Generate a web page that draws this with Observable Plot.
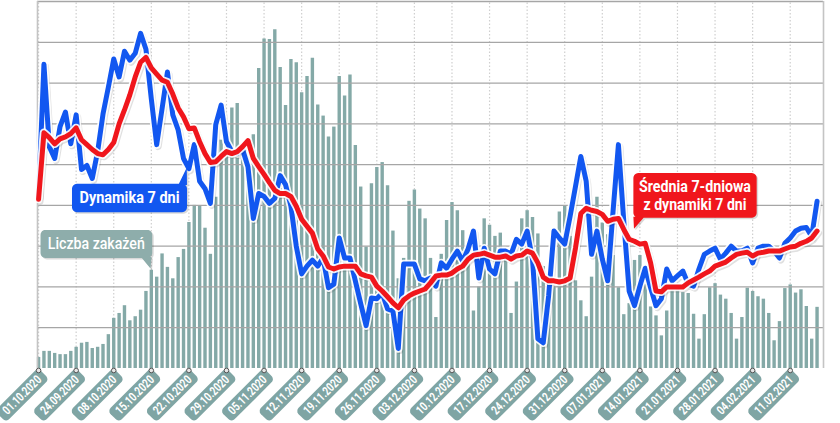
<!DOCTYPE html>
<html><head><meta charset="utf-8">
<script src="https://cdn.jsdelivr.net/npm/d3@7"></script>
<script src="https://cdn.jsdelivr.net/npm/@observablehq/plot@0.6"></script>
<style>
html,body{margin:0;padding:0;background:#fff;}
#chart{width:840px;height:423px;overflow:hidden;}
svg{display:block;}
</style></head><body><div id="chart"></div>
<script>
// ---- data (one value per day) ----
const cases = [
  2.7, 4.2, 4.2, 3.7, 3.4, 3.4, 4.2, 5.2, 6.2, 6.4,
  4.9, 5.2, 5.9, 8.3, 12.3, 13.5, 15.4, 11.7, 12.7, 14.3,
  18.9, 24.1, 22.4, 28.1, 24.8, 22.0, 27.2, 29.2, 35.8, 40.0,
  40.0, 34.4, 28.0, 42.0, 56.0, 55.0, 63.9, 65.0, 55.0, 53.0,
  57.3, 73.6, 80.8, 80.7, 83.1, 73.8, 64.5, 75.8, 75.0, 67.6,
  71.6, 76.1, 64.6, 61.9, 56.8, 59.2, 71.6, 66.8, 72.0, 54.7,
  44.5, 29.8, 45.3, 49.3, 50.5, 44.8, 33.7, 22.0, 27.0, 41.0,
  43.8, 39.1, 36.7, 27.0, 12.5, 28.0, 36.3, 40.7, 38.7, 33.8,
  28.0, 14.1, 20.0, 36.7, 35.1, 32.4, 33.2, 28.0, 13.5, 21.2,
  36.7, 38.7, 37.0, 33.0, 25.0, 14.0, 20.0, 38.4, 39.8, 32.4,
  21.5, 16.6, 12.7, 22.4, 42.0, 35.7, 32.8, 27.7, 19.8, 13.2,
  15.9, 26.5, 27.7, 20.7, 15.1, 12.9, 8.0, 14.1, 19.2, 19.8,
  18.6, 18.4, 13.3, 7.2, 13.2, 19.8, 20.8, 18.0, 17.0, 13.5,
  7.2, 12.5, 19.7, 18.9, 17.6, 17.0, 13.5, 6.8, 11.5, 19.6,
  20.5, 18.5, 19.3, 15.2, 7.2, 15.0
];
const dynamics = [
  42.2, 74.6, 54.4, 51.5, 59.3, 62.9, 55.1, 62.2, 48.8, 49.8,
  46.6, 53.2, 62.4, 69.0, 75.9, 71.5, 77.8, 75.6, 77.3, 82.2,
  78.3, 66.1, 54.9, 63.7, 72.7, 62.2, 58.5, 51.5, 49.0, 54.9,
  45.9, 44.1, 40.5, 59.8, 64.6, 55.6, 53.2, 52.7, 53.7, 49.5,
  36.8, 42.9, 42.2, 40.5, 41.7, 47.3, 45.1, 39.8, 30.0, 23.2,
  25.1, 26.6, 25.1, 27.1, 19.8, 20.7, 32.0, 27.1, 27.1, 21.5,
  15.9, 10.5, 17.3, 17.1, 18.5, 14.6, 14.1, 4.9, 25.6, 25.6,
  25.6, 22.0, 21.5, 22.2, 20.2, 25.9, 24.6, 26.8, 28.8, 26.3,
  29.3, 33.7, 22.2, 29.5, 24.4, 23.2, 28.8, 28.8, 28.0, 31.7,
  30.5, 33.7, 26.8, 7.3, 6.3, 17.8, 33.7, 32.0, 30.5, 37.3,
  44.6, 52.0, 45.9, 28.0, 33.7, 26.8, 21.5, 38.5, 54.9, 36.1,
  19.0, 15.4, 20.2, 24.6, 19.8, 15.4, 17.1, 24.4, 21.5, 22.7,
  23.9, 20.7, 20.2, 24.4, 28.0, 28.8, 29.5, 26.8, 28.3, 30.0,
  28.8, 28.8, 29.5, 25.9, 29.5, 30.0, 30.0, 28.8, 27.1, 30.7,
  32.0, 33.7, 34.4, 34.6, 32.4, 41.0
];
const average = [
  41.5, 57.8, 56.6, 55.1, 56.3, 56.8, 57.6, 59.0, 56.1, 54.9,
  53.7, 52.7, 52.4, 53.7, 55.4, 60.0, 63.4, 67.1, 71.5, 75.1,
  76.3, 73.7, 72.2, 70.7, 70.2, 67.3, 63.9, 61.7, 58.8, 59.0,
  55.6, 52.7, 50.5, 50.7, 52.0, 53.2, 52.7, 53.2, 54.4, 55.9,
  51.5, 49.5, 47.6, 45.6, 43.7, 42.9, 42.9, 42.2, 39.8, 36.6,
  34.9, 33.2, 29.3, 27.6, 24.9, 24.4, 24.9, 25.1, 25.1, 25.1,
  23.2, 22.7, 22.4, 20.2, 19.0, 17.6, 16.1, 14.9, 16.8, 17.8,
  18.5, 19.0, 19.5, 21.0, 22.7, 22.9, 22.9, 23.4, 24.4, 25.1,
  26.8, 27.8, 28.0, 28.3, 27.8, 27.3, 27.3, 27.6, 26.8, 27.6,
  27.8, 28.8, 28.3, 25.9, 22.4, 21.5, 21.5, 21.2, 21.5, 22.2,
  29.5, 38.0, 39.3, 38.8, 38.5, 37.8, 36.1, 36.6, 36.8, 34.1,
  31.7, 31.2, 30.5, 30.7, 25.9, 19.0, 18.8, 20.0, 20.0, 20.0,
  20.0, 21.0, 21.7, 22.4, 23.2, 23.9, 25.1, 25.6, 26.1, 27.1,
  28.0, 28.3, 28.5, 27.6, 28.3, 28.5, 28.8, 28.8, 28.8, 29.3,
  29.8, 30.0, 30.7, 31.2, 32.0, 33.7
];
const tickDays = [0, 7, 14, 21, 28, 35, 42, 49, 56, 63, 70, 77, 84, 91, 98, 105, 112, 119, 126, 133, 140];
const tickLabels = [
  "01.10.2020", "24.09.2020", "08.10.2020", "15.10.2020", "22.10.2020", "29.10.2020", "05.11.2020",
  "12.11.2020", "19.11.2020", "26.11.2020", "03.12.2020", "10.12.2020", "17.12.2020", "24.12.2020",
  "31.12.2020", "07.01.2021", "14.01.2021", "21.01.2021", "28.01.2021", "04.02.2021", "11.02.2021"
];
const gridValues = [10, 20, 30, 40, 50, 60, 70, 80, 90];

// annotations: anchor (tip of the pointer) in data coordinates
const notes = [
  {key: "dyn", i: 27.7, v: 49.3},
  {key: "cases", i: 20.85, v: 24.5},
  {key: "avg", i: 110.9, v: 34.3}
];
const noteLines = [
  {key: "dyn", text: "Dynamika 7 dni"},
  {key: "cases", text: "Liczba zakażeń"},
  {key: "avg", text: "Średnia 7-dniowa"},
  {key: "avg", text: "z dynamiki 7 dni"}
];

// ---- layout / style ----
const XMIN = -0.2, XMAX = 146.2;
const FONT = "Roboto, 'Liberation Sans', sans-serif";
const BLUE = "#1257f0", RED = "#f0161c", TEAL = "#84a9a7", LABEL = "#7fa5a4", NOTEGRAY = "#8eadab";

const rows = cases.map((c, i) => ({i, cases: c, dyn: dynamics[i], avg: average[i]}));
const anchorOf = Object.fromEntries(notes.map(n => [n.key, n]));

function roundedRectPts(x0, y0, x1, y1, r, n = 6) {
  const pts = [];
  const cs = [
    [x1 - r, y0 + r, -Math.PI / 2, 0],
    [x1 - r, y1 - r, 0, Math.PI / 2],
    [x0 + r, y1 - r, Math.PI / 2, Math.PI],
    [x0 + r, y0 + r, Math.PI, 1.5 * Math.PI]
  ];
  for (const [cx, cy, a0, a1] of cs)
    for (let k = 0; k <= n; k++) {
      const a = a0 + (a1 - a0) * k / n;
      pts.push([cx + r * Math.cos(a), cy + r * Math.sin(a)]);
    }
  return pts;
}
function area(p) { let s = 0; for (let k = 0; k < p.length; k++) { const a = p[k], b = p[(k + 1) % p.length]; s += a[0] * b[1] - b[0] * a[1]; } return s; }
function poly(ctx, p) { ctx.moveTo(p[0][0], p[0][1]); for (let k = 1; k < p.length; k++) ctx.lineTo(p[k][0], p[k][1]); ctx.closePath(); }

// rotated pill under each date label
const labelBox = {
  draw(ctx) {
    const a = Math.SQRT1_2, P = [5, 5], L = 61, h = 8;
    const pts = roundedRectPts(0, -h, L, h, 4.5).map(([s, t]) => [P[0] - s * a + t * a, P[1] + s * a + t * a]);
    poly(ctx, pts);
  }
};
function callout(box, tail) {
  return {
    draw(ctx) {
      const b = roundedRectPts(box[0], box[1], box[2], box[3], 5);
      let t = tail.slice();
      if (Math.sign(area(t)) !== Math.sign(area(b))) t = t.reverse();
      poly(ctx, b); poly(ctx, t);
    }
  };
}
const symbols = {
  dyn: callout([-115.3, 16.3, -0.3, 44.7], [[-9, 17.5], [-0.5, 0], [-0.3, 17.5]]),
  cases: callout([-110, -38.7, 1.7, -10.7], [[-9.5, -11.7], [1, -11.7], [0, 0]]),
  avg: callout([-0.6, -55.6, 122.7, -11], [[-0.6, -12], [10.5, -12], [0, 0]])
};
const noteFill = {dyn: BLUE, cases: NOTEGRAY, avg: RED};
const lineStyle = {
  "Dynamika 7 dni": {dx: -57.8, dy: 30.8, fontWeight: "bold", len: 100},
  "Liczba zakażeń": {dx: -54.2, dy: -24.4, fontWeight: 500, len: 97},
  "Średnia 7-dniowa": {dx: 61, dy: -41.5, fontWeight: "bold", len: 112},
  "z dynamiki 7 dni": {dx: 61, dy: -23.3, fontWeight: "bold", len: 103}
};

const marks = [
  Plot.ruleX(tickDays, {x: d => d, y1: 0, y2: 90, stroke: "#cfcfcf", strokeWidth: 1.2, strokeDasharray: "1.5,2"}),
  Plot.ruleX(rows, {x: "i", y1: 0, y2: "cases", stroke: TEAL, strokeWidth: 3.4}),
  Plot.ruleY(gridValues, {y: d => d, x1: XMIN, x2: XMAX, stroke: "#a6a6a6", strokeWidth: 1.3}),
  Plot.ruleX([XMIN, XMAX], {x: d => d, y1: 0, y2: 90, stroke: "#c4c4c4", strokeWidth: 1.6}),
  // blue line
  Plot.line(rows, {x: "i", y: "dyn", stroke: "#000", strokeOpacity: 0.12, strokeWidth: 7, dx: 1.5, dy: 2, strokeLinejoin: "round"}),
  Plot.line(rows, {x: "i", y: "dyn", stroke: "#fff", strokeOpacity: 0.9, strokeWidth: 8.5, strokeLinejoin: "round"}),
  Plot.line(rows, {x: "i", y: "dyn", stroke: BLUE, strokeWidth: 5, strokeLinejoin: "round", strokeLinecap: "round"}),
  // red line
  Plot.line(rows, {x: "i", y: "avg", stroke: "#000", strokeOpacity: 0.12, strokeWidth: 7, dx: 1.5, dy: 2, strokeLinejoin: "round"}),
  Plot.line(rows, {x: "i", y: "avg", stroke: "#fff", strokeOpacity: 0.9, strokeWidth: 8.5, strokeLinejoin: "round"}),
  Plot.line(rows, {x: "i", y: "avg", stroke: RED, strokeWidth: 5, strokeLinejoin: "round", strokeLinecap: "round"}),
  // callouts
  ...notes.map(n => Plot.dot([n], {x: "i", y: "v", r: 5, symbol: symbols[n.key], fill: "#000", fillOpacity: 0.15, stroke: "none", dx: 1.5, dy: 1.5})),
  ...notes.map(n => Plot.dot([n], {x: "i", y: "v", r: 5, symbol: symbols[n.key], fill: noteFill[n.key], stroke: "none"})),
  ...noteLines.map(l => {
    const s = lineStyle[l.text], a = anchorOf[l.key];
    return Plot.text([l], {x: () => a.i, y: () => a.v, text: "text", fill: "#fff", fontFamily: FONT, fontSize: 16,
      fontWeight: s.fontWeight, dx: s.dx, dy: s.dy, lineAnchor: "middle", textAnchor: "middle"});
  }),
  // x axis labels
  Plot.dot(tickDays, {x: d => d, y: 0, r: 5, symbol: labelBox, fill: LABEL, stroke: "none"}),
  Plot.dot(tickDays, {x: d => d, y: 0, dy: 2, r: 2.3, fill: "#e6e6e6", stroke: "#555", strokeWidth: 1}),
  Plot.text(tickDays, {x: d => d, y: 0, text: (d, k) => tickLabels[k], rotate: -45, dx: -16.5, dy: 26.5, fill: "#fff", fontSize: 12.5, fontWeight: "bold", fontFamily: FONT, textAnchor: "middle", lineAnchor: "middle"})
];

const chart = Plot.plot({
  width: 840, height: 423,
  marginLeft: 37, marginRight: 17, marginTop: 1, marginBottom: 55,
  x: {domain: [XMIN, XMAX], axis: null},
  y: {domain: [0, 90], axis: null},
  style: {background: "#fff", overflow: "visible"},
  marks
});
// condensed lettering (the original uses a narrow typeface)
const lens = new Map([...tickLabels.map(t => [t, 49]), ...Object.entries(lineStyle).map(([t, s]) => [t, s.len])]);
chart.querySelectorAll("text").forEach(el => {
  const L = lens.get(el.textContent);
  if (L) { el.setAttribute("textLength", L); el.setAttribute("lengthAdjust", "spacingAndGlyphs"); }
});
document.getElementById("chart").appendChild(chart);
</script></body></html>
